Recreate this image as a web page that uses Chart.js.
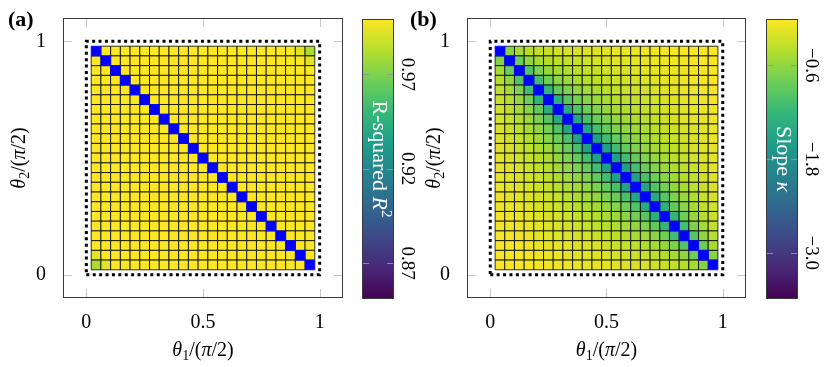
<!DOCTYPE html>
<html><head><meta charset="utf-8">
<script src="https://cdn.jsdelivr.net/npm/chart.js@4.4.1/dist/chart.umd.min.js"></script>
<style>
html,body{margin:0;padding:0;background:#fff;}
body{width:830px;height:367px;position:relative;overflow:hidden;}
canvas{position:absolute;top:0;}
</style></head><body>
<canvas id="heatA" width="350" height="367" style="left:0px;width:350px;height:367px"></canvas>
<canvas id="barA" width="80" height="367" style="left:350px;width:80px;height:367px"></canvas>
<canvas id="heatB" width="350" height="367" style="left:404px;width:350px;height:367px"></canvas>
<canvas id="barB" width="75" height="367" style="left:755px;width:75px;height:367px"></canvas>
<script>
// ---------------- data ----------------
// cell centres of the 23 x 23 grid (theta / (pi/2))
const thetaCenters = [0.0417,0.0833,0.1250,0.1667,0.2083,0.2500,0.2917,0.3333,0.3750,0.4167,0.4583,0.5000,
  0.5417,0.5833,0.6250,0.6667,0.7083,0.7500,0.7917,0.8333,0.8750,0.9167,0.9583];
const xTickValues = [0, 0.5, 1];
const xTickLabels = ['0', '0.5', '1'];
const yTickValues = [0, 1];
const yTickLabels = ['0', '1'];
// dotted domain boundary (data space)
const boxX = [0, 1, 1, 0, 0];
const boxY = [0, 0, 1, 1, 0];

// (a) R-squared, rows from top (theta2 high) to bottom; null = masked diagonal
const rSquaredRows = [
 [null,.999,.999,.999,.999, .999,.999,.999,.999,.999, .999,.999,.999,.999,.999, .999,.999,.999,.999,.999, .999,.993,.981],
 [.999,null,.999,.999,.999, .999,.999,.999,.999,.999, .999,.999,.999,.999,.999, .999,.999,.999,.999,.999, .999,.999,.993],
 [.999,.999,null,.999,.999, .999,.999,.999,.999,.999, .999,.999,.999,.999,.999, .999,.999,.999,.999,.999, .999,.999,.999],
 [.999,.999,.999,null,.999, .999,.999,.999,.999,.999, .999,.999,.999,.999,.999, .999,.999,.999,.999,.999, .999,.999,.999],
 [.999,.999,.999,.999,null, .999,.999,.999,.999,.999, .999,.999,.999,.999,.999, .999,.999,.999,.999,.999, .999,.999,.999],
 [.999,.999,.999,.999,.999, null,.999,.999,.999,.999, .999,.999,.999,.999,.999, .999,.999,.999,.999,.999, .999,.999,.999],
 [.999,.999,.999,.999,.999, .999,null,.999,.999,.999, .999,.999,.999,.999,.999, .999,.999,.999,.999,.999, .999,.999,.999],
 [.999,.999,.999,.999,.999, .999,.999,null,.999,.999, .999,.999,.999,.999,.999, .999,.999,.999,.999,.999, .999,.999,.999],
 [.999,.999,.999,.999,.999, .999,.999,.999,null,.999, .999,.999,.999,.999,.999, .999,.999,.999,.999,.999, .999,.999,.999],
 [.999,.999,.999,.999,.999, .999,.999,.999,.999,null, .999,.999,.999,.999,.999, .999,.999,.999,.999,.999, .999,.999,.999],
 [.999,.999,.999,.999,.999, .999,.999,.999,.999,.999, null,.999,.999,.999,.999, .999,.999,.999,.999,.999, .999,.999,.999],
 [.999,.999,.999,.999,.999, .999,.999,.999,.999,.999, .999,null,.999,.999,.999, .999,.999,.999,.999,.999, .999,.999,.999],
 [.999,.999,.999,.999,.999, .999,.999,.999,.999,.999, .999,.999,null,.999,.999, .999,.999,.999,.999,.999, .999,.999,.999],
 [.999,.999,.999,.999,.999, .999,.999,.999,.999,.999, .999,.999,.999,null,.999, .999,.999,.999,.999,.999, .999,.999,.999],
 [.999,.999,.999,.999,.999, .999,.999,.999,.999,.999, .999,.999,.999,.999,null, .999,.999,.999,.999,.999, .999,.999,.999],
 [.999,.999,.999,.999,.999, .999,.999,.999,.999,.999, .999,.999,.999,.999,.999, null,.999,.999,.999,.999, .999,.999,.999],
 [.999,.999,.999,.999,.999, .999,.999,.999,.999,.999, .999,.999,.999,.999,.999, .999,null,.999,.999,.999, .999,.999,.999],
 [.999,.999,.999,.999,.999, .999,.999,.999,.999,.999, .999,.999,.999,.999,.999, .999,.999,null,.999,.999, .999,.999,.999],
 [.999,.999,.999,.999,.999, .999,.999,.999,.999,.999, .999,.999,.999,.999,.999, .999,.999,.999,null,.999, .999,.999,.999],
 [.999,.999,.999,.999,.999, .999,.999,.999,.999,.999, .999,.999,.999,.999,.999, .999,.999,.999,.999,null, .999,.999,.999],
 [.999,.999,.999,.999,.999, .999,.999,.999,.999,.999, .999,.999,.999,.999,.999, .999,.999,.999,.999,.999, null,.999,.999],
 [.993,.999,.999,.999,.999, .999,.999,.999,.999,.999, .999,.999,.999,.999,.999, .999,.999,.999,.999,.999, .999,null,.999],
 [.981,.993,.999,.999,.999, .999,.999,.999,.999,.999, .999,.999,.999,.999,.999, .999,.999,.999,.999,.999, .999,.999,null]
];

// (b) slope kappa, rows from top to bottom; null = masked diagonal
const slopeRows = [
 [null,-0.67,-0.49,-0.40,-0.34,-0.30,-0.26,-0.23,-0.21,-0.19,-0.17,-0.15,-0.14,-0.12,-0.11,-0.10,-0.09,-0.07,-0.06,-0.05,-0.04,-0.04,-0.03],
 [-0.67,null,-0.84,-0.61,-0.49,-0.42,-0.36,-0.32,-0.29,-0.26,-0.23,-0.21,-0.18,-0.16,-0.15,-0.13,-0.11,-0.10,-0.08,-0.07,-0.06,-0.05,-0.04],
 [-0.49,-0.84,null,-0.99,-0.72,-0.58,-0.49,-0.43,-0.37,-0.33,-0.30,-0.26,-0.23,-0.21,-0.19,-0.16,-0.14,-0.13,-0.11,-0.09,-0.07,-0.06,-0.04],
 [-0.40,-0.61,-0.99,null,-1.12,-0.81,-0.65,-0.55,-0.48,-0.42,-0.37,-0.33,-0.29,-0.26,-0.23,-0.20,-0.18,-0.15,-0.13,-0.11,-0.09,-0.07,-0.05],
 [-0.34,-0.49,-0.72,-1.12,null,-1.24,-0.89,-0.72,-0.61,-0.52,-0.46,-0.40,-0.35,-0.31,-0.27,-0.24,-0.21,-0.18,-0.16,-0.13,-0.11,-0.08,-0.06],
 [-0.30,-0.42,-0.58,-0.81,-1.24,null,-1.34,-0.96,-0.77,-0.65,-0.56,-0.48,-0.42,-0.37,-0.33,-0.28,-0.25,-0.21,-0.18,-0.15,-0.12,-0.10,-0.07],
 [-0.26,-0.36,-0.49,-0.65,-0.89,-1.34,null,-1.42,-1.02,-0.81,-0.68,-0.58,-0.50,-0.44,-0.38,-0.33,-0.29,-0.25,-0.21,-0.18,-0.14,-0.11,-0.09],
 [-0.23,-0.32,-0.43,-0.55,-0.72,-0.96,-1.42,null,-1.49,-1.06,-0.85,-0.71,-0.60,-0.52,-0.45,-0.39,-0.33,-0.28,-0.24,-0.20,-0.16,-0.13,-0.10],
 [-0.21,-0.29,-0.37,-0.48,-0.61,-0.77,-1.02,-1.49,null,-1.54,-1.09,-0.87,-0.72,-0.61,-0.52,-0.45,-0.38,-0.33,-0.27,-0.23,-0.19,-0.15,-0.11],
 [-0.19,-0.26,-0.33,-0.42,-0.52,-0.65,-0.81,-1.06,-1.54,null,-1.57,-1.11,-0.88,-0.72,-0.61,-0.52,-0.44,-0.37,-0.31,-0.26,-0.21,-0.16,-0.12],
 [-0.17,-0.23,-0.30,-0.37,-0.46,-0.56,-0.68,-0.85,-1.09,-1.57,null,-1.59,-1.12,-0.88,-0.72,-0.60,-0.50,-0.42,-0.35,-0.29,-0.23,-0.18,-0.14],
 [-0.15,-0.21,-0.26,-0.33,-0.40,-0.48,-0.58,-0.71,-0.87,-1.11,-1.59,null,-1.59,-1.11,-0.87,-0.71,-0.58,-0.48,-0.40,-0.33,-0.26,-0.21,-0.15],
 [-0.14,-0.18,-0.23,-0.29,-0.35,-0.42,-0.50,-0.60,-0.72,-0.88,-1.12,-1.59,null,-1.57,-1.09,-0.85,-0.68,-0.56,-0.46,-0.37,-0.30,-0.23,-0.17],
 [-0.12,-0.16,-0.21,-0.26,-0.31,-0.37,-0.44,-0.52,-0.61,-0.72,-0.88,-1.11,-1.57,null,-1.54,-1.06,-0.81,-0.65,-0.52,-0.42,-0.33,-0.26,-0.19],
 [-0.11,-0.15,-0.19,-0.23,-0.27,-0.33,-0.38,-0.45,-0.52,-0.61,-0.72,-0.87,-1.09,-1.54,null,-1.49,-1.02,-0.77,-0.61,-0.48,-0.37,-0.29,-0.21],
 [-0.10,-0.13,-0.16,-0.20,-0.24,-0.28,-0.33,-0.39,-0.45,-0.52,-0.60,-0.71,-0.85,-1.06,-1.49,null,-1.42,-0.96,-0.72,-0.55,-0.43,-0.32,-0.23],
 [-0.09,-0.11,-0.14,-0.18,-0.21,-0.25,-0.29,-0.33,-0.38,-0.44,-0.50,-0.58,-0.68,-0.81,-1.02,-1.42,null,-1.34,-0.89,-0.65,-0.49,-0.36,-0.26],
 [-0.07,-0.10,-0.12,-0.15,-0.18,-0.21,-0.25,-0.28,-0.33,-0.37,-0.42,-0.48,-0.56,-0.65,-0.77,-0.96,-1.34,null,-1.24,-0.81,-0.58,-0.42,-0.30],
 [-0.06,-0.08,-0.11,-0.13,-0.16,-0.18,-0.21,-0.24,-0.27,-0.31,-0.35,-0.40,-0.46,-0.52,-0.61,-0.72,-0.89,-1.24,null,-1.12,-0.72,-0.49,-0.34],
 [-0.05,-0.07,-0.09,-0.11,-0.13,-0.15,-0.18,-0.20,-0.23,-0.26,-0.29,-0.33,-0.37,-0.42,-0.48,-0.55,-0.65,-0.81,-1.12,null,-0.99,-0.61,-0.40],
 [-0.04,-0.06,-0.07,-0.09,-0.11,-0.13,-0.14,-0.16,-0.19,-0.21,-0.23,-0.26,-0.30,-0.33,-0.37,-0.43,-0.49,-0.58,-0.72,-0.99,null,-0.84,-0.49],
 [-0.04,-0.05,-0.06,-0.07,-0.08,-0.10,-0.11,-0.13,-0.15,-0.16,-0.18,-0.21,-0.23,-0.26,-0.29,-0.32,-0.36,-0.42,-0.49,-0.61,-0.84,null,-0.67],
 [-0.03,-0.04,-0.04,-0.05,-0.06,-0.07,-0.09,-0.10,-0.11,-0.12,-0.14,-0.15,-0.17,-0.19,-0.21,-0.23,-0.26,-0.30,-0.34,-0.40,-0.49,-0.67,null]
];

// colour-bar ranges and ticks
const r2Range = [0.851, 0.9993];
const r2BarTicks = [0.97, 0.92, 0.87];
const r2BarTickLabels = ['0.97', '0.92', '0.87'];
const slopeRange = [-3.59, -0.01];
const slopeBarTicks = [-0.6, -1.8, -3.0];
const slopeBarTickLabels = ['\u22120.6', '\u22121.8', '\u22123.0'];

// ---------------- styling ----------------
const FONT = "'Liberation Serif', 'DejaVu Serif', serif";
const MASK_COLOR = '#0000ff';
const viridisStops = ['#440154','#482878','#3e4989','#31688e','#26828e','#1f9e89','#35b779','#6ece58','#b5de2b','#fde725'];
const stopRGB = viridisStops.map(h => [parseInt(h.slice(1,3),16), parseInt(h.slice(3,5),16), parseInt(h.slice(5,7),16)]);
function viridis(t) {
  t = Math.max(0, Math.min(1, t));
  const n = stopRGB.length - 1, p = t * n, i = Math.min(Math.floor(p), n - 1), f = p - i;
  const a = stopRGB[i], b = stopRGB[i + 1];
  return 'rgb(' + Math.round(a[0] + (b[0] - a[0]) * f) + ',' + Math.round(a[1] + (b[1] - a[1]) * f) + ',' + Math.round(a[2] + (b[2] - a[2]) * f) + ')';
}

function drawRich(ctx, runs, cx, cy, rot, color, vShift) {
  ctx.save();
  ctx.translate(cx, cy);
  ctx.rotate(rot);
  ctx.fillStyle = color;
  ctx.textAlign = 'left';
  ctx.textBaseline = 'alphabetic';
  const fonts = runs.map(r => (r.italic ? 'italic ' : '') + (r.bold ? 'bold ' : '') + r.size + 'px ' + FONT);
  const widths = runs.map((r, i) => { ctx.font = fonts[i]; return ctx.measureText(r.text).width; });
  const total = widths.reduce((s, w) => s + w, 0);
  let x = -total / 2;
  runs.forEach((r, i) => { ctx.font = fonts[i]; ctx.fillText(r.text, x, vShift + (r.dy || 0)); x += widths[i]; });
  ctx.restore();
}

const TS = 20; // text size
const xTitleRuns = [{text:'\u03B8', italic:true, size:TS}, {text:'1', size:14, dy:4}, {text:'/(', size:TS}, {text:'\u03C0', italic:true, size:TS}, {text:'/2)', size:TS}];
const yTitleRuns = [{text:'\u03B8', italic:true, size:TS}, {text:'2', size:14, dy:4}, {text:'/(', size:TS}, {text:'\u03C0', italic:true, size:TS}, {text:'/2)', size:TS}];
const r2TitleRuns = [{text:'R-squared ', size:22}, {text:'R', italic:true, size:22}, {text:'2', size:15, dy:-9}];
const slopeTitleRuns = [{text:'Slope ', size:22}, {text:'\u03BA', italic:true, size:22}];

function heatDecor(panelLabel, labelX, yTitleX) {
  return {
    id: 'heatDecor',
    afterDraw(chart) {
      const {ctx, chartArea: a, scales: {x, y}} = chart;
      const TICK = 9;
      ctx.save();
      ctx.strokeStyle = '#c8c8c8';
      ctx.lineWidth = 1;
      ctx.beginPath();
      xTickValues.forEach(v => {
        const p = Math.round(x.getPixelForValue(v)) + 0.5;
        ctx.moveTo(p, a.bottom); ctx.lineTo(p, a.bottom - TICK);
        ctx.moveTo(p, a.top); ctx.lineTo(p, a.top + TICK);
      });
      yTickValues.forEach(v => {
        const p = Math.round(y.getPixelForValue(v)) + 0.5;
        ctx.moveTo(a.left, p); ctx.lineTo(a.left + TICK, p);
        ctx.moveTo(a.right, p); ctx.lineTo(a.right - TICK, p);
      });
      ctx.stroke();
      ctx.strokeStyle = '#3a3a3a';
      ctx.strokeRect(a.left + 0.5, a.top + 0.5, a.width - 1, a.height - 1);
      drawRich(ctx, xTitleRuns, (a.left + a.right) / 2, 351, 0, '#000', 5);
      drawRich(ctx, yTitleRuns, yTitleX, (a.top + a.bottom) / 2, -Math.PI / 2, '#000', 5);
      ctx.font = 'bold 22px ' + FONT;
      ctx.fillStyle = '#000';
      ctx.textAlign = 'left';
      ctx.textBaseline = 'middle';
      ctx.fillText(panelLabel, labelX, 20);
      ctx.restore();
    }
  };
}

function makeHeat(id, rows, range, panelLabel, labelX, yTitleX, padRight) {
  const n = thetaCenters.length;
  const toPts = diag => {
    const pts = [];
    rows.forEach((row, r) => row.forEach((v, c) => {
      if ((v === null) === diag) pts.push({x: thetaCenters[c], y: thetaCenters[n - 1 - r], v: v});
    }));
    return pts;
  };
  const cellRadius = ctx => {
    const s = ctx.chart.scales.x;
    if (!s) return 4;
    const step = thetaCenters[1] - thetaCenters[0];
    return Math.abs(s.getPixelForValue(step) - s.getPixelForValue(0)) / Math.SQRT2;
  };
  const colorOf = ctx => {
    if (!ctx.raw) return MASK_COLOR;
    const v = ctx.raw.v;
    return v === null ? MASK_COLOR : viridis((v - range[0]) / (range[1] - range[0]));
  };
  return new Chart(document.getElementById(id), {
    type: 'scatter',
    data: {
      datasets: [
        {label: 'domain', data: boxX.map((x, i) => ({x: x, y: boxY[i]})), showLine: true, fill: false,
         borderColor: '#000', borderWidth: 3, borderDash: [3, 3.4], pointRadius: 0, order: 0},
        {label: 'masked', data: toPts(true), pointStyle: 'rect', pointRadius: cellRadius,
         pointBackgroundColor: MASK_COLOR, pointBorderColor: MASK_COLOR, pointBorderWidth: 0.8, order: 1},
        {label: 'cells', data: toPts(false), pointStyle: 'rect', pointRadius: cellRadius,
         pointBackgroundColor: colorOf, pointBorderColor: '#000', pointBorderWidth: 0.8, order: 2}
      ]
    },
    options: {
      responsive: false, animation: false, events: [],
      layout: {padding: {left: 0, top: 18, right: padRight, bottom: 0}},
      plugins: {legend: {display: false}, tooltip: {enabled: false}},
      scales: {
        x: {type: 'linear', min: -0.1, max: 1.1, grid: {display: false}, border: {display: false},
            afterBuildTicks: s => { s.ticks = xTickValues.map(v => ({value: v})); },
            ticks: {autoSkip: false, maxRotation: 0, padding: 5, color: '#000', font: {family: FONT, size: TS},
                    callback: (v, i) => xTickLabels[i]},
            afterFit: s => { s.height = 69; s.paddingLeft = 0; s.paddingRight = 0; }},
        y: {type: 'linear', min: -0.1, max: 1.1, grid: {display: false}, border: {display: false},
            afterBuildTicks: s => { s.ticks = yTickValues.map(v => ({value: v})); },
            ticks: {autoSkip: false, padding: 9, color: '#000', font: {family: FONT, size: TS},
                    callback: (v, i) => yTickLabels[i]},
            afterFit: s => { s.width = 63; s.paddingTop = 0; s.paddingBottom = 0; }}
      }
    },
    plugins: [heatDecor(panelLabel, labelX, yTitleX)]
  });
}

function barDecor(ticks, labels, titleRuns) {
  return {
    id: 'barDecor',
    afterDraw(chart) {
      const {ctx, chartArea: a, scales: {y}} = chart;
      ctx.save();
      ctx.strokeStyle = 'rgba(150,150,150,0.9)';
      ctx.lineWidth = 1;
      ctx.beginPath();
      ticks.forEach(v => {
        const p = Math.round(y.getPixelForValue(v)) + 0.5;
        ctx.moveTo(a.left, p); ctx.lineTo(a.left + 7, p);
        ctx.moveTo(a.right, p); ctx.lineTo(a.right - 7, p);
      });
      ctx.stroke();
      ctx.strokeStyle = '#3a3a3a';
      ctx.strokeRect(a.left + 0.5, a.top + 0.5, a.width - 1, a.height - 1);
      ticks.forEach((v, i) => {
        drawRich(ctx, [{text: labels[i], size: 19}], a.right + 14, y.getPixelForValue(v), Math.PI / 2, '#000', 6);
      });
      drawRich(ctx, titleRuns, (a.left + a.right) / 2, (a.top + a.bottom) / 2, Math.PI / 2, '#fff', 5);
      ctx.restore();
    }
  };
}

function makeBar(id, range, ticks, labels, titleRuns, padLeft, padRight) {
  return new Chart(document.getElementById(id), {
    type: 'bar',
    data: {
      labels: ['colorbar'],
      datasets: [{
        data: [[range[0], range[1]]],
        borderWidth: 0, barPercentage: 1, categoryPercentage: 1,
        backgroundColor: c => {
          const a = c.chart.chartArea;
          if (!a) return viridisStops[viridisStops.length - 1];
          const g = c.chart.ctx.createLinearGradient(0, a.bottom, 0, a.top);
          viridisStops.forEach((s, i) => g.addColorStop(i / (viridisStops.length - 1), s));
          return g;
        }
      }]
    },
    options: {
      responsive: false, animation: false, events: [],
      layout: {padding: {left: padLeft, right: padRight, top: 19, bottom: 68}},
      plugins: {legend: {display: false}, tooltip: {enabled: false}},
      scales: {x: {display: false}, y: {display: false, min: range[0], max: range[1]}}
    },
    plugins: [barDecor(ticks, labels, titleRuns)]
  });
}

makeHeat('heatA', rSquaredRows, r2Range, '(a)', 8, 20, 7);
makeBar('barA', r2Range, r2BarTicks, r2BarTickLabels, r2TitleRuns, 12, 36);
makeHeat('heatB', slopeRows, slopeRange, '(b)', 6, 31, 8);
makeBar('barB', slopeRange, slopeBarTicks, slopeBarTickLabels, slopeTitleRuns, 11, 32);
</script>
</body></html>
